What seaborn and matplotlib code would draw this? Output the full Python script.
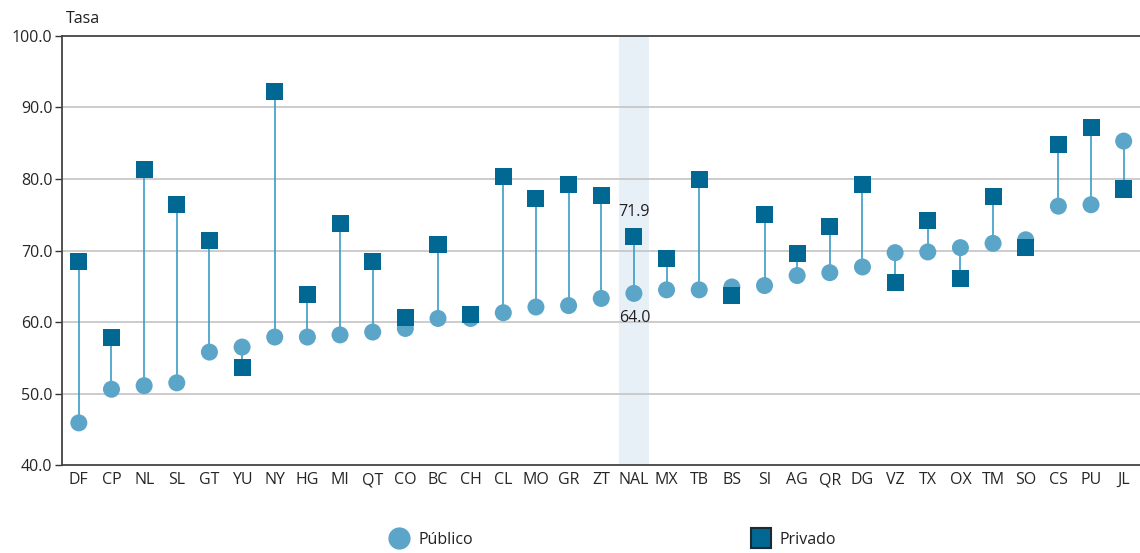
import matplotlib

matplotlib.use("Agg")

import matplotlib.pyplot as plt
from matplotlib.lines import Line2D
import numpy as np
import pandas as pd
import seaborn as sns

states = ["DF", "CP", "NL", "SL", "GT", "YU", "NY", "HG", "MI", "QT", "CO",
          "BC", "CH", "CL", "MO", "GR", "ZT", "NAL", "MX", "TB", "BS", "SI",
          "AG", "QR", "DG", "VZ", "TX", "OX", "TM", "SO", "CS", "PU", "JL"]
publico = [45.9, 50.6, 51.1, 51.5, 55.8, 56.5, 57.9, 57.9, 58.2, 58.6, 59.1,
           60.5, 60.5, 61.3, 62.1, 62.3, 63.3, 64.0, 64.5, 64.5, 64.9, 65.1,
           66.5, 66.9, 67.7, 69.7, 69.8, 70.4, 71.0, 71.5, 76.2, 76.4, 85.3]
privado = [68.5, 57.9, 81.3, 76.5, 71.4, 53.6, 92.3, 63.9, 73.8, 68.4, 60.6,
           70.9, 61.0, 80.4, 77.3, 79.2, 77.7, 71.9, 68.9, 79.9, 63.7, 75.0,
           69.6, 73.3, 79.2, 65.5, 74.2, 66.1, 77.5, 70.4, 84.8, 87.2, 78.6]
y_ticks = [40, 50, 60, 70, 80, 90, 100]
highlight = "NAL"

C_PUB = "#5ba5c8"
C_PRIV = "#006893"
C_STEM = "#3b9dc6"
C_TEXT = "#231f20"

sns.set_theme(style="white")
plt.rcParams["font.family"] = ["Open Sans", "DejaVu Sans"]
plt.rcParams["text.color"] = C_TEXT

df = pd.DataFrame({"estado": states, "Público": publico, "Privado": privado})
df["x"] = np.arange(len(df))

fig = plt.figure(figsize=(11.4, 5.53), dpi=100)
ax = fig.add_axes([0.0546, 0.159, 0.9454, 0.776])

hi = states.index(highlight)
ax.axvspan(hi - 0.47, hi + 0.47, color="#e7f0f6", zorder=0, lw=0)

for y in y_ticks[1:-1]:
    ax.axhline(y, color="#c8c8c8", lw=1.3, zorder=1)

# stems first, then public circles, then private squares on top
ax.vlines(df["x"], df["Público"], df["Privado"], color=C_STEM, lw=1.2, zorder=2)
sns.scatterplot(data=df, x="x", y="Público", marker="o", s=150, color=C_PUB,
                edgecolor="none", ax=ax, zorder=3, legend=False)
sns.scatterplot(data=df, x="x", y="Privado", marker="s", s=150, color=C_PRIV,
                edgecolor="none", ax=ax, zorder=4, legend=False)

ax.annotate(f"{privado[hi]:.1f}", (hi, privado[hi]), xytext=(0, 18),
            textcoords="offset points", ha="center", va="center", fontsize=11.5)
ax.annotate(f"{publico[hi]:.1f}", (hi, publico[hi]), xytext=(1, -18),
            textcoords="offset points", ha="center", va="center", fontsize=11.5)

ax.set_xlim(-0.508, 32.27)
ax.set_ylim(40, 100)
ax.set_yticks(y_ticks)
ax.set_yticklabels([f"{v:.1f}" for v in y_ticks], fontsize=11.5)
ax.set_xticks(df["x"])
ax.set_xticklabels(states, fontsize=11.5)
ax.set_xticks(np.arange(len(states)) + 0.5, minor=True)
ax.tick_params(axis="x", which="major", length=0, pad=5)
ax.tick_params(axis="x", which="minor", length=5, width=1, color="#333333", direction="out")
ax.tick_params(axis="y", length=5, width=1, color="#333333", direction="out", pad=2, left=True)
ax.set_xlabel("")
ax.set_ylabel("")

for side in ["left", "top", "bottom"]:
    ax.spines[side].set_color("#444444")
    ax.spines[side].set_linewidth(1.3)
ax.spines["right"].set_visible(False)

fig.text(0.058, 0.965, "Tasa", fontsize=11.5, ha="left", va="center")

handles = [
    Line2D([], [], marker="o", ls="none", markersize=15, color=C_PUB, markeredgecolor=C_PUB),
    Line2D([], [], marker="s", ls="none", markersize=14, color=C_PRIV,
           markeredgecolor="#1b2a33", markeredgewidth=1.5),
]
fig.legend(handles, ["Público", "Privado"], loc="center", bbox_to_anchor=(0.535, 0.024),
           ncol=2, frameon=False, fontsize=11.5, columnspacing=17, handletextpad=0.2)

fig.savefig("out.png", dpi=100)
